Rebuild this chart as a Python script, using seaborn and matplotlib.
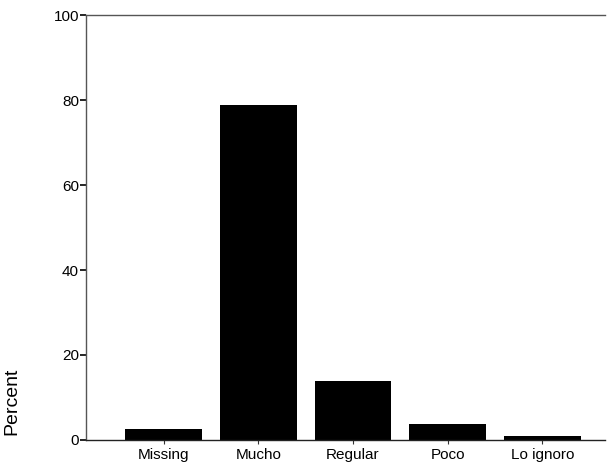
import matplotlib
matplotlib.use("Agg")
import matplotlib.pyplot as plt
import seaborn as sns
import pandas as pd

categories = ["Missing", "Mucho", "Regular", "Poco", "Lo ignoro"]
percent = [2.7, 78.8, 13.9, 3.7, 0.9]
yticks = [0, 20, 40, 60, 80, 100]

sns.set_theme(style="white")
plt.rcParams['font.family'] = ['Liberation Sans', 'DejaVu Sans']
plt.rcParams['text.color'] = 'black'
plt.rcParams['xtick.color'] = 'black'
plt.rcParams['ytick.color'] = 'black'
plt.rcParams['axes.labelcolor'] = 'black'

df = pd.DataFrame({"cat": categories, "pct": percent})

fig = plt.figure(figsize=(6.11, 4.66), dpi=100)
ax = fig.add_axes([0.1408, 0.0558, 0.849, 0.912])
sns.barplot(data=df, x="cat", y="pct", color="black", saturation=1,
            width=0.81, ax=ax, edgecolor="black", linewidth=0)

ax.set_xlim(-0.82, 4.66)
ax.set_ylim(0, 100)
ax.set_yticks(yticks)
ax.set_yticklabels([str(t) for t in yticks], fontsize=11)
ax.tick_params(axis="y", length=4, width=1.2, color="black", pad=1, left=True)
ax.tick_params(axis="x", length=3, width=0.8, color="#333333", pad=3, bottom=True, labelsize=11)
ax.set_xlabel("")
ax.set_ylabel("Percent", fontsize=14)
ax.yaxis.set_label_coords(-0.127, 0.092)

for s in ["left", "top", "bottom"]:
    ax.spines[s].set_visible(True)
    ax.spines[s].set_color("#555555")
    ax.spines[s].set_linewidth(1.0)
ax.spines["bottom"].set_color("#222222")
ax.spines["right"].set_visible(False)
ax.grid(False)

fig.savefig("out.png", dpi=100)
